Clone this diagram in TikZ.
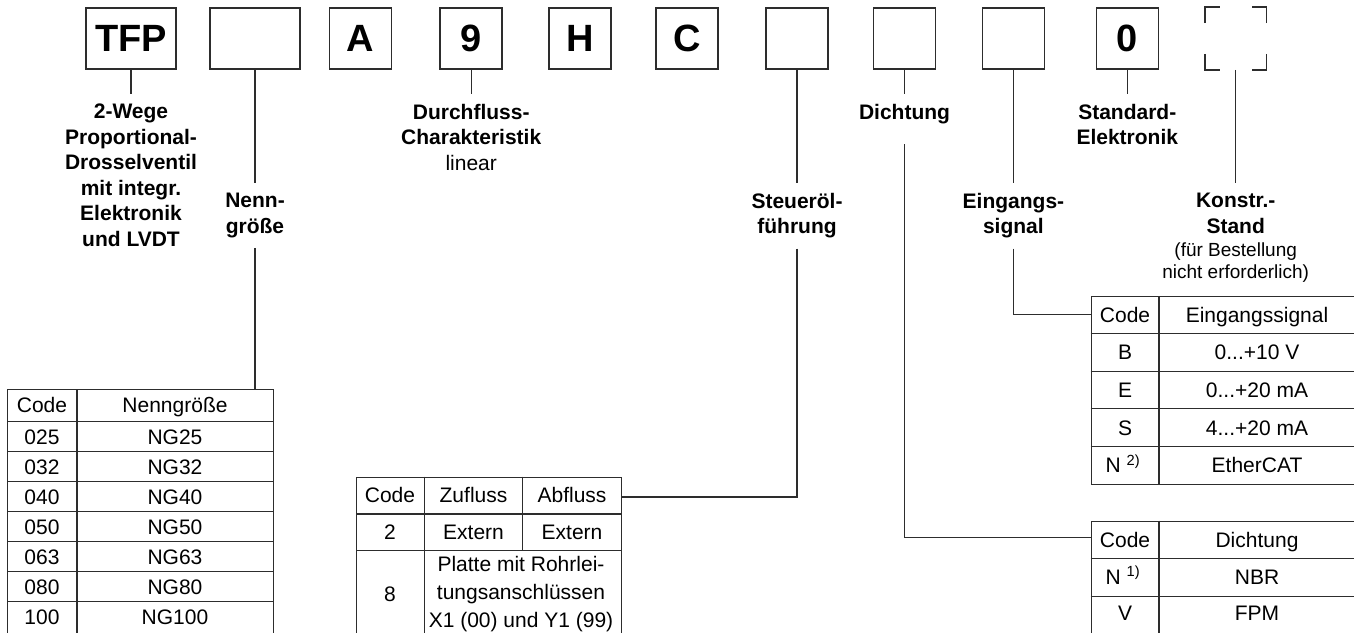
\documentclass[tikz,border=0pt]{standalone}
\usepackage{fontspec}
\setmainfont{Liberation Sans}
\definecolor{strich}{RGB}{45,45,45}
\tikzset{
  kasten/.style={draw=strich, line width=1.6pt, minimum height=61pt, minimum width=62pt, inner sep=0pt, font=\fontsize{38}{40}\selectfont\bfseries},
  breit/.style={minimum width=90pt},
  titel/.style={anchor=north, align=center, inner xsep=0pt, inner ysep=10pt, font=\fontsize{21}{25.5}\selectfont\bfseries},
  zelle/.style={inner sep=0pt, text height=15pt, text depth=0pt, font=\fontsize{21}{25}\selectfont},
  rahmen/.style={draw=strich, line width=1.3pt, anchor=north west, inner sep=0pt},
  linie/.style={draw=strich, line width=1.3pt},
}
\newcommand\klein{\mdseries\fontsize{19}{22}\selectfont}

\begin{document}
\begin{tikzpicture}[x=1pt,y=-1pt]
\useasboundingbox (0,0) rectangle (1354,632);
% Typenschluessel oben
\node[kasten,breit] (tfp) at (131,38.5) {TFP};
\node[kasten,breit] (ng) at (255,38.5) {};
\node[kasten] (a) at (360.6,38.5) {A};
\node[kasten] (neun) at (471.2,38.5) {9};
\node[kasten] (h) at (579.8,38.5) {H};
\node[kasten] (c) at (686.9,38.5) {C};
\node[kasten] (st) at (797,38.5) {};
\node[kasten] (di) at (904.5,38.5) {};
\node[kasten] (es) at (1013.4,38.5) {};
\node[kasten] (nl) at (1127.3,38.5) {0};
\node[kasten,draw=none,minimum width=60pt] (ks) at (1235.7,38.5) {};% nur Ecken
\foreach \ecke/\dx/\dy in {north west/15/-16, north east/-15/-16, south west/15/16, south east/-15/16}
  \draw[linie, line width=1.6pt] ([yshift=\dy pt]ks.\ecke) |- ([xshift=\dx pt]ks.\ecke);

% Beschriftungen
\node[titel] (tfpt) at (131,94) {2-Wege\\Proportional-\\Drosselventil\\mit integr.\\Elektronik\\und LVDT};
\node[titel] (ngt) at (255,183) {Nenn-\\größe};
\node[titel] (neunt) at (471.2,94) {Durchfluss-\\Charakteristik\\\mdseries linear};
\node[titel] (stt) at (797,183) {Steueröl-\\führung};
\node[titel] (dit) at (904.5,94) {Dichtung};
\node[titel] (est) at (1013.4,183) {Eingangs-\\signal};
\node[titel] (nlt) at (1127.3,94) {Standard-\\Elektronik};
\node[titel] (kst) at (1235.7,183) {Konstr.-\\Stand\\[-2.5pt]{\klein(für Bestellung}\\[-3.5pt]{\klein nicht erforderlich)}};

\draw[linie] (tfp.south) -- (tfpt.north);
\draw[linie] (neun.south) -- (neunt.north);
\draw[linie] (nl.south) -- (nlt.north);
\draw[linie] (ks.south) -- (kst.north);
\draw[linie] (ng.south) -- (ngt.north);
\draw[linie] (st.south) -- (stt.north);
\draw[linie] (di.south) -- (dit.north);
\draw[linie] (es.south) -- (est.north);

% Tabelle Nenngroesse
\node[rahmen, minimum width=266pt, minimum height=244pt] (ngtab) at (7,389) {};
\draw[linie] (77,389) -- (77,633);
\foreach \i in {0,...,6} \draw[linie] (7,{421.7+30*\i}) -- (273,{421.7+30*\i});
\node[zelle] (ngk0) at (42,405.3) {Code};
\node[zelle] (ngw0) at (175,405.3) {Nenngröße};
\foreach \c/\w [count=\i] in {025/NG25,032/NG32,040/NG40,050/NG50,063/NG63,080/NG80,100/NG100}{
  \node[zelle] (ngk\i) at (42,{406.7+30*\i}) {\c};
  \node[zelle] (ngw\i) at (175,{406.7+30*\i}) {\w};
}
\draw[linie] (ngt.south) -- (ngt.south |- ngtab.north);

% Tabelle Steueroelfuehrung
\node[rahmen, minimum width=265pt, minimum height=157pt] (sttab) at (356,476.7) {};
\draw[linie] (424.3,476.7) -- (424.3,634);
\draw[linie] (522.7,476.7) -- (522.7,550.7);
\draw[linie] (356,514) -- (621,514);
\draw[linie] (356,550.7) -- (621,550.7);
\node[zelle] (stk0) at (390,495.3) {Code};
\node[zelle] (stz0) at (473.5,495.3) {Zufluss};
\node[zelle] (sta0) at (572,495.3) {Abfluss};
\node[zelle] (stk1) at (390,532.3) {2};
\node[zelle] (stz1) at (473.5,532.3) {Extern};
\node[zelle] (sta1) at (572,532.3) {Extern};
\node[zelle] (stk2) at (390,594) {8};
\node[align=center, inner sep=0pt, anchor=north, font=\fontsize{21}{28}\selectfont] (stp) at (521,556) {Platte mit Rohrlei-\\tungsanschlüssen\\X1 (00) und Y1 (99)};
\coordinate (stin) at (621,497);
\draw[linie] (stt.south) |- (stin);

% Tabelle Eingangssignal
\node[rahmen, minimum width=265pt, minimum height=188pt] (estab) at (1090.7,296) {};
\draw[linie] (1159,296) -- (1159,484);
\foreach \i in {1,...,4} \draw[linie] (1090.7,{296+37.6*\i}) -- (1356,{296+37.6*\i});
\node[zelle] (esk0) at (1125,314.8) {Code};
\node[zelle] (esw0) at (1257,314.8) {Eingangssignal};
\node[zelle] (esk1) at (1125,352.4) {B};
\node[zelle] (esw1) at (1257,352.4) {0...+10 V};
\node[zelle] (esk2) at (1125,390) {E};
\node[zelle] (esw2) at (1257,390) {0...+20 mA};
\node[zelle] (esk3) at (1125,427.6) {S};
\node[zelle] (esw3) at (1257,427.6) {4...+20 mA};
\node[zelle] (esk4) at (1123,465.2) {N\ \textsuperscript{2)}};
\node[zelle] (esw4) at (1257,465.2) {EtherCAT};
\coordinate (esin) at (1090.7,314.5);
\draw[linie] (est.south) |- (esin);

% Tabelle Dichtung
\node[rahmen, minimum width=265pt, minimum height=114pt] (dtab) at (1090.7,520.7) {};
\draw[linie] (1159,520.7) -- (1159,635);
\draw[linie] (1090.7,558.3) -- (1356,558.3);
\draw[linie] (1090.7,596.7) -- (1356,596.7);
\node[zelle] (dk0) at (1125,540) {Code};
\node[zelle] (dw0) at (1257,540) {Dichtung};
\node[zelle] (dk1) at (1123,576.5) {N\ \textsuperscript{1)}};
\node[zelle] (dw1) at (1257,576.5) {NBR};
\node[zelle] (dk2) at (1125,613) {V};
\node[zelle] (dw2) at (1257,613) {FPM};
\coordinate (dtin) at (1090.7,537.5);
\draw[linie] ([yshift=-10pt]dit.south) |- (dtin);
\end{tikzpicture}
\end{document}
